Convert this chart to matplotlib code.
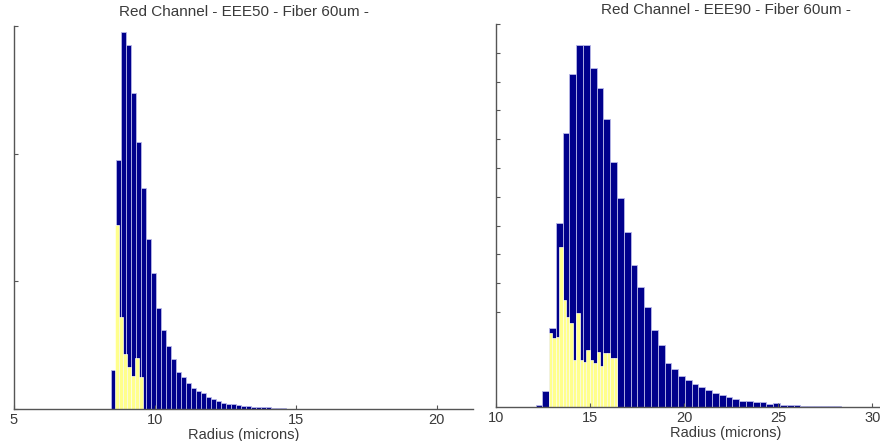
import numpy as np
import matplotlib
matplotlib.use("Agg")
import matplotlib.pyplot as plt

plt.rcParams['font.family'] = ['Liberation Sans', 'DejaVu Sans']

# left panel: EEE50
left_title = "Red Channel - EEE50 - Fiber 60um -"
left_start, left_bin = 8.44, 0.1774
left_blue = [153, 975, 1477, 1426, 1238, 1046, 866, 666, 533, 396, 309, 247, 196, 145,
             125, 102, 82, 71, 63, 47, 39, 31, 24, 20, 18, 16, 12, 10, 8, 8, 6, 6, 4, 4, 4]
left_ystart, left_ybin = 8.60, 0.142
left_yellow = [721, 360, 215, 165, 129, 200, 125]
left_xlim = (5, 21.29)
left_ylim = (0, 1500)
left_xticks = [5, 10, 15, 20]
left_yticks = [0, 500, 1000, 1500]

# right panel: EEE90 (axes runs past the right edge of the image)
right_title = "Red Channel - EEE90 - Fiber 60um -"
right_start, right_bin = 12.1, 0.361
right_blue = [3, 28, 137, 319, 476, 578, 628, 628, 589, 554, 500, 425, 363, 304, 247, 208,
              174, 134, 108, 76, 66, 54, 47, 40, 35, 30, 24, 21, 17, 14, 11, 10, 9, 8, 5,
              7, 3, 3, 3, 2, 2, 2, 2, 2, 2]
right_ystart, right_ybin = 12.82, 0.1805
right_yellow = [128, 120, 122, 278, 186, 156, 146, 82, 163, 82, 78, 99, 82, 76, 95, 71,
                94, 94, 85, 85]
right_xlim = (10, 34.4)
right_ylim = (0, 665)
right_xticks = [10, 15, 20, 25, 30]
right_yticks = [165, 215, 265, 315, 365, 415, 465, 515, 565, 615, 665]

xlabel = "Radius (microns)"

navy = "#00008c"
yellow = "#ffff8c"
txt = "#3a3a3a"

fig = plt.figure(figsize=(8.8, 4.41), dpi=100)
axl = fig.add_axes([14/880, 32/441, 459/880, 383/441])
axr = fig.add_axes([496/880, 34/441, 459/880, 383/441])

panels = [
    (axl, left_title, left_start, left_bin, left_blue, left_ystart, left_ybin, left_yellow,
     left_xlim, left_ylim, left_xticks, left_yticks),
    (axr, right_title, right_start, right_bin, right_blue, right_ystart, right_ybin, right_yellow,
     right_xlim, right_ylim, right_xticks, right_yticks),
]

for ax, title, bs, bw, bvals, ys, yw, yvals, xl, yl, xt, yt in panels:
    bx = bs + bw * np.arange(len(bvals))
    ax.bar(bx, bvals, width=bw, align='edge', color=navy, edgecolor="#b8b8e8", linewidth=0.6)
    yx = ys + yw * np.arange(len(yvals))
    ax.bar(yx, yvals, width=yw, align='edge', color=yellow, edgecolor="#fffff0", linewidth=0.5)
    ax.set_xlim(*xl)
    ax.set_ylim(*yl)
    ax.set_xticks(xt)
    ax.set_yticks(yt)
    ax.set_yticklabels([])
    ax.tick_params(direction='in', length=3, width=0.8, colors="#555555",
                   labelcolor=txt, labelsize=10.5, pad=3)
    for s in ['top', 'right']:
        ax.spines[s].set_visible(False)
    for s in ['left', 'bottom']:
        ax.spines[s].set_color("#555555")
        ax.spines[s].set_linewidth(1.0)
    ax.set_title(title, fontsize=11, color=txt, pad=7)
    ax.set_xlabel(xlabel, fontsize=10.5, color=txt, labelpad=0.5)

fig.savefig("out.png", dpi=100)
